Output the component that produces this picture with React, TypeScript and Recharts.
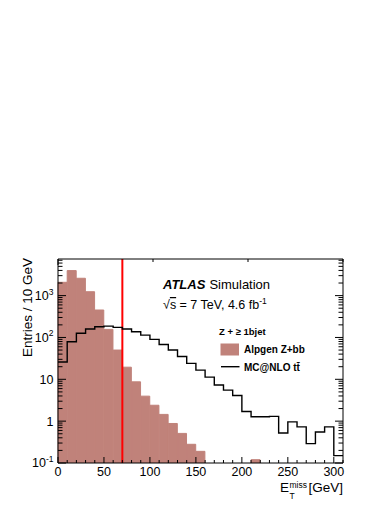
import { ComposedChart, Bar, Line, XAxis, YAxis, ReferenceLine } from "recharts"

// 10 GeV bins of E_T^miss
const binLow = [0, 10, 20, 30, 40, 50, 60, 70, 80, 90, 100, 110, 120, 130, 140, 150, 160, 170, 180, 190, 200, 210, 220, 230, 240, 250, 260, 270, 280, 290, 300]
const lastEdge = 310

// Alpgen Z+bb (filled)
const alpgenZbb = [2080, 3960, 2600, 1240, 453, 156, 50, 19.5, 8.7, 3.96, 2.4, 1.45, 0.88, 0.51, 0.28, 0.19, null, null, null, null, null, 0.12, null, null, null, null, null, null, null, null, null]

// MC@NLO ttbar (line)
const mcnloTtbar = [26, 79, 126, 159, 180, 187, 174, 159, 137, 114, 90, 68, 50, 35, 24, 16.6, 11.3, 7.3, 5.5, 4.1, 1.7, 1.27, 1.27, 1.3, 0.52, 0.96, 0.73, 0.29, 0.55, 0.73, 0.15]

const yMajor = [0.1, 1, 10, 100, 1000]
const yMajorLabels = [["10", "-1"], ["1", ""], ["10", ""], ["10", "2"], ["10", "3"]]
const xMajor = [0, 50, 100, 150, 200, 250, 300]
const yMax = 7500
const metCut = 70

const barData = binLow.map((lo, i) => ({ bin: lo, alp: alpgenZbb[i] }))
const lineData = [...binLow, lastEdge].map((x, i) => ({ x, tt: mcnloTtbar[Math.min(i, mcnloTtbar.length - 1)] }))

const yTicks: number[] = [...yMajor]
for (const d of yMajor) {
  for (let k = 2; k <= 9; k++) {
    if (d * k < yMax) yTicks.push(d * k)
  }
}
const xTicks = [...binLow, lastEdge]

const FONT = "'Liberation Sans', Arial, Helvetica, sans-serif"
const ALP = "#c0827a"

const majorY = (v: number) => yMajor.findIndex((m) => Math.abs(m - v) < 1e-9)
const majorX = (v: number) => xMajor.includes(v)

function LeftTick(props: any) {
  const { x, y, payload } = props
  const idx = majorY(payload.value)
  const major = idx >= 0
  return (
    <g>
      <line x1={x} x2={x + (major ? 8 : 4.5)} y1={y} y2={y} stroke="#000" strokeWidth={1} />
      {major && (
        <text x={x - 4.5} y={y} dy={4.4} textAnchor="end" fontSize={12.5} fontFamily={FONT} fill="#000">
          {yMajorLabels[idx][0]}
          {yMajorLabels[idx][1] && (
            <tspan dy={-5.5} fontSize={8.5}>{yMajorLabels[idx][1]}</tspan>
          )}
        </text>
      )}
    </g>
  )
}

function RightTick(props: any) {
  const { x, y, payload } = props
  const major = majorY(payload.value) >= 0
  return <line x1={x} x2={x - (major ? 8 : 4.5)} y1={y} y2={y} stroke="#000" strokeWidth={1} />
}

function BottomTick(props: any) {
  const { x, y, payload } = props
  const major = majorX(payload.value)
  return (
    <g>
      <line x1={x} x2={x} y1={y} y2={y - (major ? 6 : 3)} stroke="#000" strokeWidth={1} />
      {major && (
        <text x={x} y={y + 13} textAnchor="middle" fontSize={12.5} fontFamily={FONT} fill="#000">
          {payload.value}
        </text>
      )}
    </g>
  )
}

function TopTick(props: any) {
  const { x, y, payload } = props
  const major = majorX(payload.value)
  return <line x1={x} x2={x} y1={y} y2={y + (major ? 6 : 3)} stroke="#000" strokeWidth={1} />
}

export default function App() {
  return (
    <div style={{ position: "absolute", left: 0, top: 0, width: 390, height: 505, background: "#fff" }}>
      <ComposedChart
        width={390}
        height={505}
        data={barData}
        margin={{ top: 258, right: 46, bottom: 12, left: 8 }}
        barCategoryGap={0}
        barGap={0}
      >
        <XAxis
          xAxisId="num"
          dataKey="x"
          type="number"
          domain={[0, lastEdge]}
          allowDataOverflow
          ticks={xTicks}
          interval={0}
          height={30}
          tickSize={0}
          tickMargin={0}
          tickLine={false}
          axisLine={{ stroke: "#000" }}
          tick={(p: any) => <BottomTick {...p} />}
        />
        <XAxis xAxisId="cat" dataKey="bin" type="category" height={0} hide />
        <XAxis
          xAxisId="top"
          orientation="top"
          type="number"
          domain={[0, lastEdge]}
          allowDataOverflow
          ticks={xTicks}
          interval={0}
          height={1}
          tickSize={0}
          tickMargin={0}
          tickLine={false}
          axisLine={{ stroke: "#000" }}
          tick={(p: any) => <TopTick {...p} />}
        />
        <YAxis
          yAxisId="l"
          scale="log"
          type="number"
          domain={[0.1, yMax]}
          allowDataOverflow
          ticks={yTicks}
          interval={0}
          width={50}
          tickSize={0}
          tickMargin={0}
          tickLine={false}
          axisLine={{ stroke: "#000" }}
          tick={(p: any) => <LeftTick {...p} />}
        />
        <YAxis
          yAxisId="r"
          orientation="right"
          scale="log"
          type="number"
          domain={[0.1, yMax]}
          allowDataOverflow
          ticks={yTicks}
          interval={0}
          width={1}
          tickSize={0}
          tickMargin={0}
          tickLine={false}
          axisLine={{ stroke: "#000" }}
          tick={(p: any) => <RightTick {...p} />}
        />
        <Bar
          xAxisId="cat"
          yAxisId="l"
          dataKey="alp"
          fill={ALP}
          stroke={ALP}
          strokeWidth={1}
          isAnimationActive={false}
        />
        <ReferenceLine xAxisId="num" yAxisId="l" x={metCut} stroke="#ff0000" strokeWidth={2} />
        <Line
          xAxisId="num"
          yAxisId="r"
          data={lineData}
          dataKey="tt"
          type="stepAfter"
          stroke="#000"
          strokeWidth={1.4}
          dot={false}
          activeDot={false}
          isAnimationActive={false}
        />

        {/* axis titles */}
        <text transform="translate(32, 258) rotate(-90)" textAnchor="end" fontSize={13.5} fontFamily={FONT} fill="#000">
          Entries / 10 GeV
        </text>
        <text x={280} y={492} fontSize={13.5} fontFamily={FONT} fill="#000">E</text>
        <text x={289.5} y={487.5} fontSize={8.5} fontFamily={FONT} fill="#000">miss</text>
        <text x={289.5} y={499} fontSize={8.5} fontFamily={FONT} fill="#000">T</text>
        <text x={343} y={492} textAnchor="end" fontSize={13.5} fontFamily={FONT} fill="#000">[GeV]</text>

        {/* ATLAS label */}
        <text x={163} y={288.5} fontSize={13} fontFamily={FONT} fill="#000">
          <tspan fontWeight="bold" fontStyle="italic">ATLAS</tspan>
          <tspan dx={4}>Simulation</tspan>
        </text>
        <text x={163} y={309} fontSize={12.5} fontFamily={FONT} fill="#000">
          √<tspan textDecoration="overline">s</tspan> = 7 TeV, 4.6 fb
          <tspan dy={-5} fontSize={8.5}>-1</tspan>
        </text>

        {/* legend */}
        <text x={219} y={335} fontSize={9.5} fontWeight="bold" fontFamily={FONT} fill="#000">
          Z + ≥ 1bjet
        </text>
        <rect x={220.5} y={343.5} width={18.5} height={12} fill={ALP} />
        <text x={244} y={353} fontSize={10} fontWeight="bold" fontFamily={FONT} fill="#000">
          Alpgen Z+bb
        </text>
        <line x1={221} x2={239.5} y1={366.7} y2={366.7} stroke="#000" strokeWidth={1.4} />
        <text x={244} y={370.5} fontSize={10} fontWeight="bold" fontFamily={FONT} fill="#000">
          MC@NLO tt̄
        </text>
      </ComposedChart>
    </div>
  )
}
